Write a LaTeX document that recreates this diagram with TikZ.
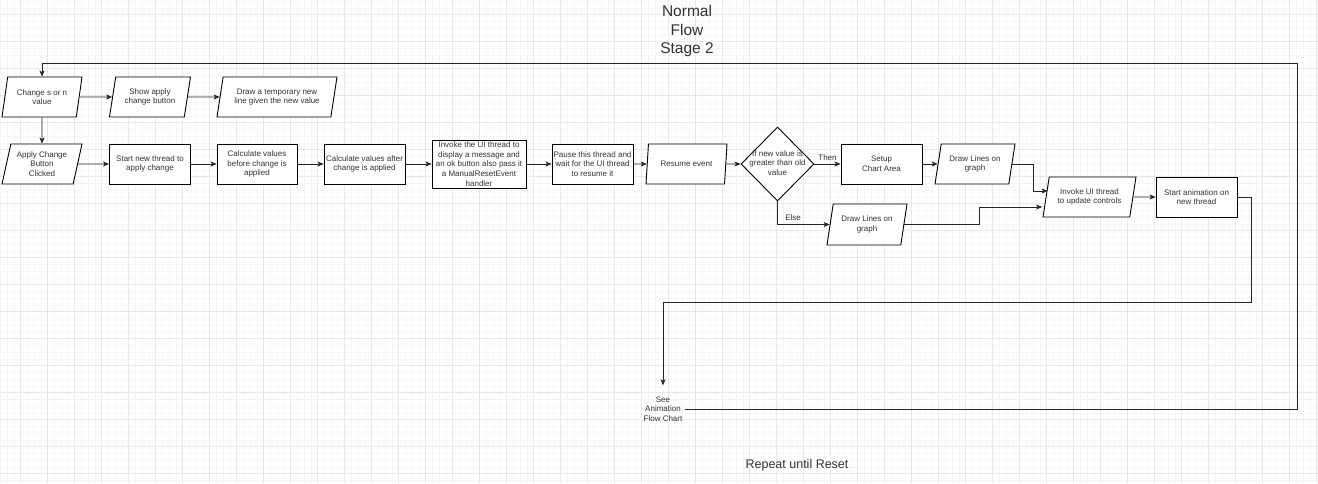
\documentclass[tikz,border=0pt]{standalone}
\usepackage{fontspec}
\setmainfont{Liberation Sans}
\usetikzlibrary{positioning, calc, shapes.geometric, arrows.meta}

\begin{document}
\begin{tikzpicture}[
		x=1pt, y=-1pt,
		procbox/.style={draw, fill=white, rectangle, line width=0.9pt, minimum width=81pt, minimum height=40pt, align=center, inner sep=1pt, font=\fontsize{8}{9.7}\selectfont, text=black!80},
		iobox/.style={draw, fill=white, trapezium, trapezium left angle=72, trapezium right angle=108, trapezium stretches body, line width=0.9pt, minimum width=80pt, minimum height=40pt, align=center, inner sep=1pt, font=\fontsize{8}{9.7}\selectfont, text=black!80},
		decision/.style={draw, fill=white, diamond, line width=0.9pt, minimum width=73pt, minimum height=74pt, inner sep=0pt, font=\fontsize{8}{9.7}\selectfont, text=black!80},
		flow/.style={->, line width=0.7pt, draw=black!85, >={Stealth[length=6pt, width=5pt, inset=1.5pt]}},
		note/.style={font=\fontsize{8}{9.7}\selectfont, text=black!80, align=center},
		gridminor/.style={draw=black!3.5, line width=0.5pt},
		gridmajor/.style={draw=black!9, line width=0.5pt},
	]
	\useasboundingbox[fill=white] (0,0) rectangle (1318,483);

	% background grid
	\foreach \i in {0,...,195} {\draw[gridminor] ({0.25+\i*6.75},0) -- ++(0,483);}
	\foreach \i in {0,...,71} {\draw[gridminor] (0,{1+\i*6.75}) -- ++(1318,0);}
	\foreach \i in {0,...,48} {\draw[gridmajor] ({20.5+\i*27},0) -- ++(0,483);}
	\foreach \i in {0,...,17} {\draw[gridmajor] (0,{14.5+\i*27}) -- ++(1318,0);}

	% title
	\node[font=\fontsize{15.5}{18.5}\selectfont, text=black!80, align=center] (title) at (687,31) {Normal\\Flow\\Stage 2};

	% first row
	\node[iobox] (chg) at (42,97) {Change s or n\\value};
	\node[iobox, minimum width=81pt] (show) at (150,97) {Show apply\\change button};
	\node[iobox, minimum width=120pt] (drawtmp) at (277,97) {Draw a temporary new\\line given the new value};

	% second row
	\node[iobox] (apply) at (42,164) {Apply Change\\Button\\Clicked};
	\node[procbox] (start) at (150,164) {Start new thread to\\apply change};
	\node[procbox, minimum width=80pt] (before) at (257,164) {Calculate values\\before change is\\applied};
	\node[procbox] (after) at (364.5,164) {Calculate values after\\change is applied};
	\node[procbox, minimum width=94pt, minimum height=48pt] (invoke) at (479,164) {Invoke the UI thread to\\display a message and\\an ok button also pass it\\a ManualResetEvent\\handler};
	\node[procbox] (pause) at (592.5,164) {Pause this thread and\\wait for the UI thread\\to resume it};
	\node[iobox, minimum width=81pt] (resume) at (686.5,164) {Resume event};
	\node[decision] (check) at (777.5,164) {\makebox[0pt]{\begin{tabular}{@{}c@{}}If new value is\\greater than old\\value\end{tabular}}};
	\node[procbox] (setup) at (881.5,164) {Setup\\Chart Area};
	\node[iobox] (linesA) at (975,164) {Draw Lines on\\graph};
	\node[iobox, minimum height=41pt] (linesB) at (867,224.5) {Draw Lines on\\graph};
	\node[iobox, minimum width=93pt] (update) at (1089.5,197) {Invoke UI thread\\to update controls};
	\node[procbox] (anim) at (1196.5,197) {Start animation on\\new thread};

	% loop back
	\node[note, inner sep=2pt] (see) at (663,409) {See\\Animation\\Flow Chart};
	\node[font=\fontsize{12.5}{15}\selectfont, text=black!80] (repeat) at (797,465) {Repeat until Reset};
	\coordinate (animturn) at (1251,302);
	\coordinate (loopturn) at (1297,63);

	\draw[flow] (chg) -- (show);
	\draw[flow] (show) -- (drawtmp);
	\draw[flow] (chg) -- (apply);
	\draw[flow] (apply) -- (start);
	\draw[flow] (start) -- (before);
	\draw[flow] (before) -- (after);
	\draw[flow] (after) -- (invoke);
	\draw[flow] (invoke) -- (pause);
	\draw[flow] (pause) -- (resume);
	\draw[flow] (resume) -- (check);
	\draw[flow] (check) -- node[note, above] {Then} (setup);
	\draw[flow] (check.south) |- node[note, pos=0.65, above] {Else} (linesB);
	\draw[flow] (setup) -- (linesA);
	\draw[flow] (linesA.east) -- ++(21,0) |- ($(update.west)+(2,-6)$);
	\draw[flow] (linesB.east) -- ++(75,0) |- ($(update.west)+(-3.5,10)$);
	\draw[flow] (update) -- (anim);
	\draw[flow] (anim.east) -| (animturn) -| ($(see.north)+(0,-9)$);
	\draw[flow] (see.east) -| (loopturn) -| (chg.north);
\end{tikzpicture}
\end{document}
